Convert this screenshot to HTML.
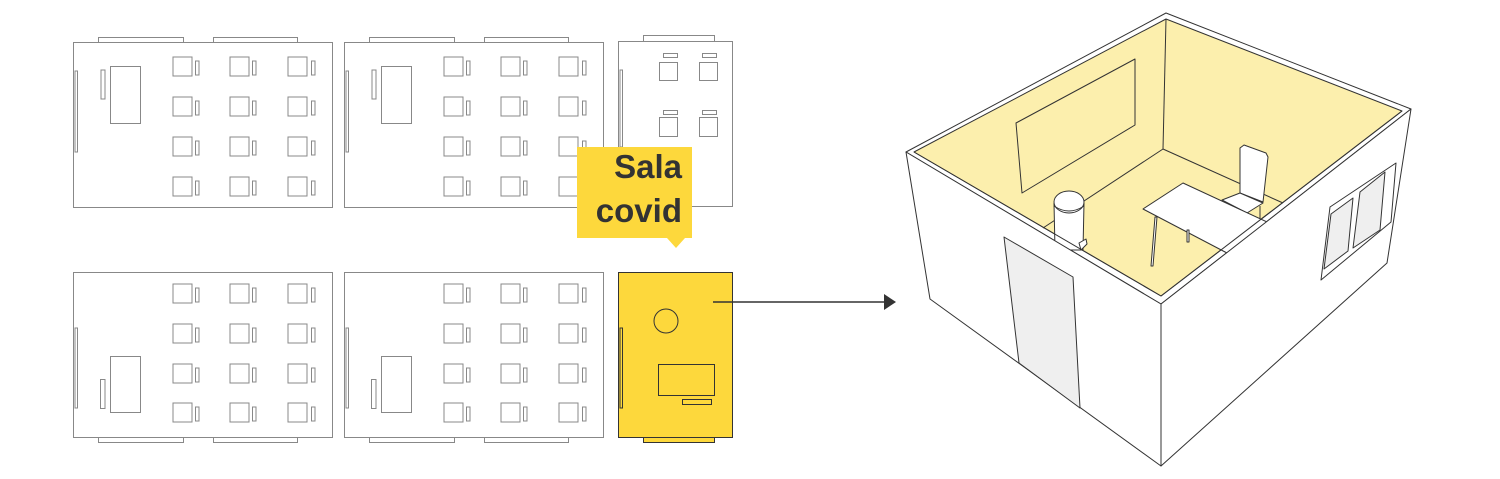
<!DOCTYPE html>
<html><head><meta charset="utf-8"><style>
html,body{margin:0;padding:0;background:#fff;}
svg{display:block;}
</style></head><body>
<svg width="1500" height="479" viewBox="0 0 1500 479" xmlns="http://www.w3.org/2000/svg">
<defs>
<g id="desks" fill="none" stroke="#888" stroke-width="1">
  <rect x="173" y="0" width="19" height="19"/><rect x="195.5" y="4" width="3.5" height="14"/>
  <rect x="230" y="0" width="19" height="19"/><rect x="252.5" y="4" width="3.5" height="14"/>
  <rect x="288" y="0" width="19" height="19"/><rect x="311.5" y="4" width="3.5" height="14"/>
</g>
<g id="roomTop" fill="none" stroke="#888" stroke-width="1">
  <rect x="73.5" y="42.5" width="259" height="165" fill="#fff"/>
  <rect x="98.5" y="37.5" width="85" height="5"/>
  <rect x="213.5" y="37.5" width="84" height="5"/>
  <rect x="75" y="71" width="2.5" height="81"/>
  <rect x="110.5" y="66.5" width="30" height="57"/>
  <rect x="101" y="70" width="4" height="29"/>
  <use href="#desks" y="57"/><use href="#desks" y="97"/><use href="#desks" y="137"/><use href="#desks" y="177"/>
</g>
<g id="roomBot" fill="none" stroke="#888" stroke-width="1">
  <rect x="73.5" y="272.5" width="259" height="165" fill="#fff"/>
  <rect x="98.5" y="437.5" width="85" height="5"/>
  <rect x="213.5" y="437.5" width="84" height="5"/>
  <rect x="75" y="328" width="2.5" height="80"/>
  <rect x="110.5" y="356.5" width="30" height="56"/>
  <rect x="100.5" y="379.5" width="4.5" height="29"/>
  <use href="#desks" y="284"/><use href="#desks" y="324"/><use href="#desks" y="364"/><use href="#desks" y="403"/>
</g>
</defs>

<use href="#roomTop"/>
<use href="#roomTop" x="271"/>
<use href="#roomBot"/>
<use href="#roomBot" x="271"/>

<g fill="none" stroke="#888" stroke-width="1">
  <rect x="618.5" y="41.5" width="114" height="165"/>
  <rect x="643.5" y="35.5" width="71" height="6"/>
  <rect x="620" y="70" width="2.5" height="77"/>
  <rect x="659.5" y="62.5" width="18" height="18"/><rect x="663.5" y="53.5" width="14" height="4"/>
  <rect x="699.5" y="62.5" width="18" height="18"/><rect x="702.5" y="53.5" width="14" height="4"/>
  <rect x="659.5" y="117.5" width="18" height="19"/><rect x="663.5" y="110.5" width="14" height="4"/>
  <rect x="699.5" y="117.5" width="18" height="19"/><rect x="702.5" y="110.5" width="14" height="4"/>
</g>

<path d="M577 147 H692 V238 H685 L676 248 L667 238 H577 Z" fill="#fdd83c"/>
<text x="682" y="178" text-anchor="end" font-family="Liberation Sans, sans-serif" font-weight="bold" font-size="33" fill="#333">Sala</text>
<text x="682" y="222" text-anchor="end" font-family="Liberation Sans, sans-serif" font-weight="bold" font-size="33" fill="#333">covid</text>

<g stroke="#333" stroke-width="1">
  <rect x="618.5" y="272.5" width="114" height="165" fill="#fdd83c"/>
  <rect x="643.5" y="437.5" width="71" height="5" fill="#fdd83c"/>
  <rect x="620" y="328" width="2.5" height="80" fill="none"/>
  <circle cx="666" cy="321" r="12" fill="none"/>
  <rect x="658.5" y="364.5" width="56" height="31" fill="none"/>
  <rect x="682.5" y="399.5" width="29" height="5" fill="none"/>
</g>
<line x1="713" y1="302" x2="886" y2="302" stroke="#333" stroke-width="1.5"/>
<polygon points="884,294 896,302 884,310" fill="#333"/>

<g stroke="#333" stroke-width="1" stroke-linejoin="round">
  <polygon points="906,152 1166,13 1411,109 1161,304" fill="#fff"/>
  <polygon points="914,152 1166,19 1402,111 1161,296" fill="#fcefad"/>
  <line x1="1166" y1="19" x2="1163" y2="149" fill="none"/>
  <line x1="1163" y1="149" x2="1043" y2="228"/>
  <line x1="1163" y1="149" x2="1283" y2="203"/>
  <polygon points="1016,123 1135,59 1135,125 1022,193" fill="none"/>
  <polygon points="1240,148 1244,145 1266,153 1268,157 1263,202 1240,193" fill="#fff"/>
  <polygon points="1222,200 1240,193 1263,203 1247,213" fill="#fff"/>
  <line x1="1260" y1="206" x2="1260" y2="220"/>
  <line x1="1248" y1="212" x2="1248" y2="222"/>
  <polygon points="1143,209 1183,183 1280,228 1227,253" fill="#fff"/>
  <polygon points="1155,217 1157,217 1153,266 1151,266" fill="#fff"/>
  <polygon points="1187,230 1189,230 1189,242 1187,242" fill="#fff"/>
  <path d="M1054,203 L1055,250 L1083,250 L1084,203" fill="#fff"/>
  <polygon points="1079,243 1086,239 1087,244 1081,250" fill="#fff"/>
  <ellipse cx="1069" cy="202" rx="15" ry="11" fill="#fff"/>
  <path d="M1054,206 Q1069,216 1084,206" fill="none"/>
  <polygon points="906,152 1161,304 1161,466 930,299" fill="#fff"/>
  <polygon points="1161,304 1411,109 1387,263 1161,466" fill="#fff"/>
  <line x1="914" y1="152" x2="1161" y2="296" />
  <line x1="1161" y1="296" x2="1402" y2="111"/>
  <polygon points="1004,237 1073,277 1080,408 1019,363" fill="#efefef"/>
  <polygon points="1330,207 1396,163 1391,222 1321,280" fill="#fff"/>
  <polygon points="1331,214 1353,198 1348,251 1324,269" fill="#efefef"/>
  <polygon points="1360,192 1385,172 1380,230 1353,248" fill="#efefef"/>
</g>
</svg>
</body></html>
